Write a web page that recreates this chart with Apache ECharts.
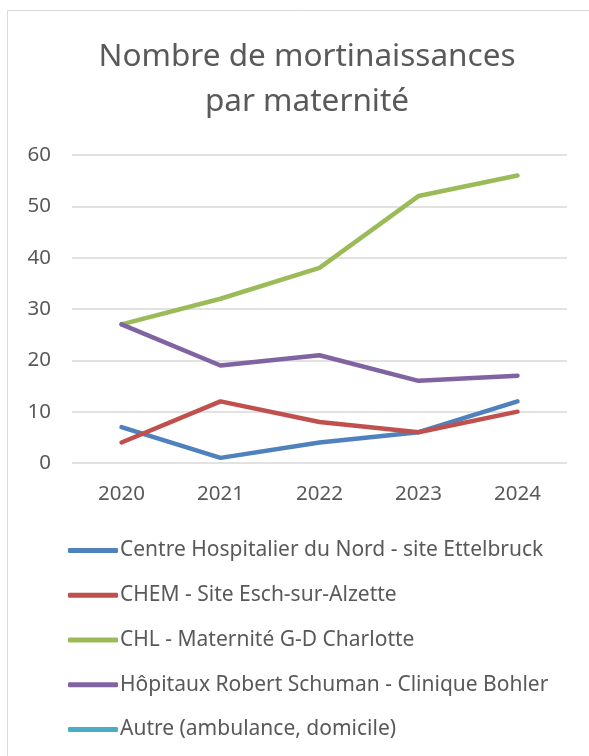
<!doctype html>
<html lang="fr">
	<head>
		<meta charset="UTF-8">
		<title>echarts</title>
		<script src="https://cdn.jsdelivr.net/npm/echarts@6/dist/echarts.min.js"></script>
		<style>
			html, body { margin: 0; padding: 0; background: #fff; }
		</style>
	</head>
	<body>
		<div id="main" style="width: 589px; height: 756px;"></div>
		<script>
			// données
			const years = ['2020', '2021', '2022', '2023', '2024']
			const seriesNames = [
				'Centre Hospitalier du Nord - site Ettelbruck',
				'CHEM - Site Esch-sur-Alzette',
				'CHL - Maternité G-D Charlotte',
				'Hôpitaux Robert Schuman - Clinique Bohler',
				'Autre (ambulance, domicile)'
			]
			const chdn = [7, 1, 4, 6, 12]
			const chem = [4, 12, 8, 6, 10]
			const chl = [27, 32, 38, 52, 56]
			const hrs = [27, 19, 21, 16, 17]
			const autre = [null, null, null, null, null]
			const colors = ['#4f81bd', '#c0504d', '#9bbb59', '#8064a2', '#4bacc6']

			const font = 'Noto Sans'
			let mCharts = echarts.init(document.getElementById('main'))
			let allData = [chdn, chem, chl, hrs, autre]
			let series = allData.map((d, i) => ({
				name: seriesNames[i],
				type: 'line',
				data: d,
				symbol: 'none',
				color: colors[i],
				lineStyle: { width: 4.5, cap: 'round', join: 'round' },
				emphasis: { disabled: true }
			}))
			let option = {
				animation: false,
				graphic: [{
					type: 'rect',
					shape: { x: 7.5, y: 10.5, width: 620, height: 800 },
					style: { fill: 'none', stroke: '#d9d9d9', lineWidth: 1 },
					silent: true
				}],
				title: {
					text: 'Nombre de mortinaissances\npar maternité',
					left: 302,
					textAlign: 'center',
					top: 30,
					textStyle: {
						fontFamily: font,
						fontSize: 31.5,
						fontWeight: 'normal',
						color: '#595959',
						lineHeight: 45
					}
				},
				grid: { left: 72, right: 22, top: 155, bottom: 293, containLabel: false },
				xAxis: {
					type: 'category',
					data: years,
					boundaryGap: true,
					axisLine: { show: false },
					axisTick: { show: false },
					axisLabel: { fontFamily: font, fontSize: 20.5, color: '#595959', margin: 21 }
				},
				yAxis: {
					type: 'value',
					min: 0,
					max: 60,
					interval: 10,
					axisLine: { show: false },
					axisTick: { show: false },
					splitLine: { lineStyle: { color: '#d9d9d9', width: 1.5 } },
					axisLabel: { fontFamily: font, fontSize: 20.5, color: '#595959', margin: 21 }
				},
				legend: {
					orient: 'vertical',
					left: 63,
					top: 534,
					icon: 'roundRect',
					itemWidth: 50,
					itemHeight: 5,
					itemGap: 21.75,
					textStyle: { fontFamily: font, fontSize: 21, color: '#595959', lineHeight: 23, padding: [0, 0, 0, -3] },
					data: seriesNames
				},
				series: series
			}
			mCharts.setOption(option)
		</script>
	</body>
</html>
